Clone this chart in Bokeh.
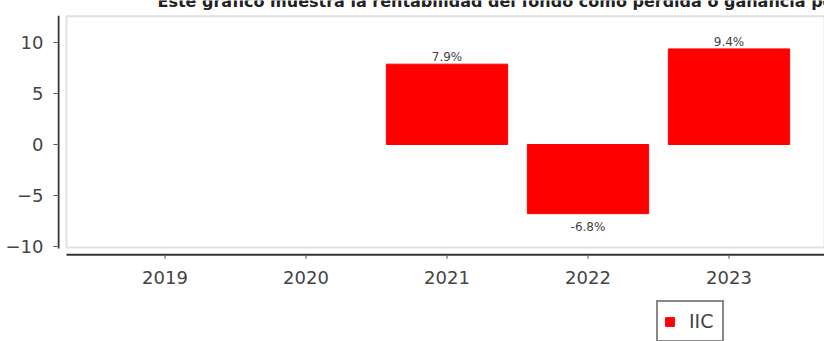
from bokeh.plotting import figure
from bokeh.models import (Range1d, FixedTicker, BoxAnnotation, Label, Legend,
                          LegendItem, ColumnDataSource)
from bokeh.core.properties import value
from bokeh.embed import file_html
from bokeh.resources import INLINE

# ---- data ----
years = ["2019", "2020", "2021", "2022", "2023"]
returns = [None, None, 7.9, -6.8, 9.4]
series_name = "IIC"
title_text = ("Este gráfico muestra la rentabilidad del fondo como pérdida o "
              "ganancia porcentual en cada año")
y_ticks = [-10, -5, 0, 5, 10]
y_tick_labels = ["−10", "−5", "0", "5", "10"]

# ---- style / layout constants ----
PX_X = 141.0          # px per category
PX_Y = 10.17          # px per unit
X0 = -107.5 / PX_X
X1 = X0 + 767 / PX_X
Y1 = 10 + 42.3 / PX_Y
Y0 = -10 - 95.3 / PX_Y
BOX_TOP = 10 + 26.5 / PX_Y
AXIS_Y = -10 - 8.6 / PX_Y     # bottom axis line position
BAR_W = 0.86
RED = "#ff0000"
TXT = "#444444"
AX = "#333333"
FONT = "DejaVu Sans"

idx = list(range(len(years)))
vals = [float("nan") if v is None else v for v in returns]
src = ColumnDataSource(dict(x=idx, top=vals, year=years))

pos = [(i, v) for i, v in zip(idx, returns) if v is not None and v >= 0]
neg = [(i, v) for i, v in zip(idx, returns) if v is not None and v < 0]
pos_src = ColumnDataSource(dict(x=[a for a, _ in pos], y=[b for _, b in pos],
                                t=[f"{b:.1f}%" for _, b in pos]))
neg_src = ColumnDataSource(dict(x=[a for a, _ in neg], y=[b for _, b in neg],
                                t=[f"{b:.1f}%" for _, b in neg]))

p = figure(width=824, height=341, x_range=Range1d(X0, X1), y_range=Range1d(Y0, Y1),
           output_backend="svg", toolbar_location=None, x_axis_location=None,
           min_border_left=57, min_border_right=0, min_border_top=0,
           min_border_bottom=0)
p.outline_line_color = None
p.xgrid.visible = False
p.ygrid.visible = False
p.background_fill_color = "white"
p.border_fill_color = "white"

# inner gray plot box
p.add_layout(BoxAnnotation(left=X0 + 9 / PX_X, bottom=-10 - 1.3 / PX_Y, top=BOX_TOP,
                           fill_color=None, line_color="#9a9a9a", line_width=2))

bars = p.vbar(x="x", top="top", bottom=0, width=BAR_W, source=src,
              fill_color=RED, line_color=RED)

p.text(x="x", y="y", text="t", source=pos_src, text_align="center",
       text_baseline="alphabetic", y_offset=-7, text_font=value(FONT),
       text_font_size="12px", text_color=TXT)
p.text(x="x", y="y", text="t", source=neg_src, text_align="center",
       text_baseline="top", y_offset=6, text_font=value(FONT),
       text_font_size="12px", text_color=TXT)

# left axis (Bokeh ticks + labels, own line)
p.yaxis.ticker = FixedTicker(ticks=y_ticks)
p.yaxis.major_label_overrides = {t: l for t, l in zip(y_ticks, y_tick_labels)}
p.yaxis.axis_line_color = None
p.yaxis.major_tick_line_color = "#555555"
p.yaxis.major_tick_in = 0
p.yaxis.major_tick_out = 4
p.yaxis.minor_tick_line_color = None
p.yaxis.major_label_text_color = TXT
p.yaxis.major_label_text_font = FONT
p.yaxis.major_label_text_font_size = "18px"
p.yaxis.major_label_standoff = 10
p.segment(x0=[X0 + 1 / PX_X], y0=[-10 - 2.3 / PX_Y], x1=[X0 + 1 / PX_X],
          y1=[BOX_TOP + 0.5 / PX_Y], line_color=AX, line_width=2)

# bottom category axis
p.segment(x0=[X0 + 9 / PX_X], y0=[AXIS_Y], x1=[X1], y1=[AXIS_Y],
          line_color=AX, line_width=2)
p.segment(x0=idx, y0=[AXIS_Y] * len(idx), x1=idx, y1=[AXIS_Y - 4 / PX_Y] * len(idx),
          line_color="#555555", line_width=1)
p.text(x=idx, y=[AXIS_Y] * len(idx), text=years, text_align="center",
       text_baseline="top", y_offset=16, text_font=value(FONT),
       text_font_size="18px", text_color=TXT)

# title (cropped at top like reference)
p.add_layout(Label(x=100, y=340, x_units="screen", y_units="screen",
                   text=title_text, text_font=FONT, text_font_style="bold",
                   text_font_size="16px", text_color="#222222",
                   text_baseline="alphabetic"))

legend = Legend(items=[LegendItem(label=series_name, renderers=[bars])],
                location=(599, -1), orientation="vertical",
                border_line_color="#111111", border_line_width=2,
                background_fill_color="white", background_fill_alpha=1,
                padding=6, margin=0, glyph_width=11, glyph_height=11,
                label_height=26, label_width=27, label_standoff=14,
                label_text_font=FONT, label_text_font_size="19px",
                label_text_color=TXT)
p.add_layout(legend, "center")

open("out.html", "w").write(file_html(p, INLINE))
